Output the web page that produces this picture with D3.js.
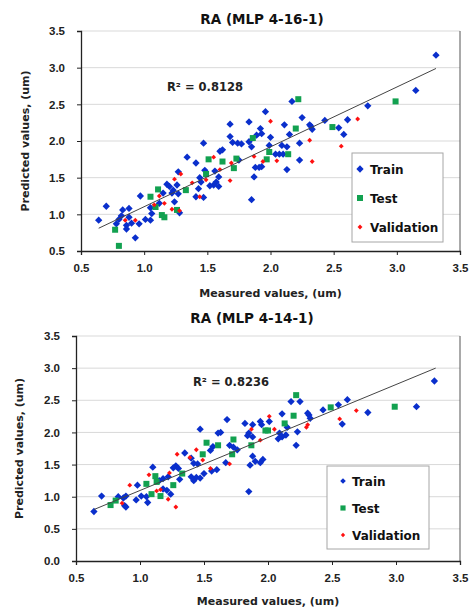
<!DOCTYPE html>
<meta charset="utf-8">
<style>
body { margin: 0; background: #fff; }
svg { font-family: "DejaVu Sans", Verdana, sans-serif; font-weight: bold; }
.grid line { stroke: #d9d9d9; stroke-width: 1px; }
.axis path, .axis line { stroke: #222; }
.axis path { stroke-width: 1.3px; }
.axis text { fill: #222; font-size: 11.5px; font-weight: bold; }
</style>
<body>
<script src="https://d3js.org/d3.v7.min.js"></script>
<script>
// ---- data (measured, predicted) ----
const titles = ["RA (MLP 4-16-1)", "RA (MLP 4-14-1)"];
const r2Labels = ["R² = 0.8128", "R² = 0.8236"];
const seriesNames = ["Train", "Test", "Validation"];
const xTicks = [0.5, 1.0, 1.5, 2.0, 2.5, 3.0, 3.5];
const yTicksTop = [0.5, 1.0, 1.5, 2.0, 2.5, 3.0, 3.5];
const yTicksBottom = [0.0, 0.5, 1.0, 1.5, 2.0, 2.5, 3.0, 3.5];

// trend lines: [x start, x end, slope, intercept]
const trendTop = [0.64, 3.31, 0.816, 0.288];
const trendBottom = [0.64, 3.31, 0.824, 0.273];

const trainTop = [[3.31,3.17],[3.15,2.69],[2.77,2.48],[2.61,2.29],[2.54,2.18],[2.58,2.09],[2.43,2.28],[2.32,2.20],[2.33,2.16],[2.23,1.97],[2.25,2.32],[2.17,2.54],[2.15,2.09],[2.11,2.22],[2.31,2.22],[1.96,2.40],[1.83,2.26],[1.92,2.17],[1.89,2.08],[1.93,2.10],[2.00,2.05],[1.83,1.99],[1.85,1.92],[1.99,1.94],[2.04,1.82],[2.07,1.82],[2.10,1.82],[2.09,1.94],[2.13,1.92],[1.68,2.23],[1.68,2.06],[1.70,1.98],[1.74,1.97],[1.77,1.96],[1.47,1.97],[1.60,1.86],[1.62,1.88],[1.34,1.78],[2.23,1.74],[2.13,1.61],[1.93,1.65],[1.88,1.64],[1.91,1.64],[1.87,1.51],[1.85,1.20],[1.75,1.74],[1.56,1.59],[1.59,1.51],[1.57,1.44],[1.55,1.40],[1.52,1.39],[1.59,1.38],[1.48,1.60],[1.44,1.50],[1.45,1.44],[1.41,1.70],[1.43,1.35],[1.41,1.24],[1.47,1.23],[1.27,1.58],[1.26,1.40],[1.18,1.41],[1.20,1.38],[1.15,1.29],[1.22,1.29],[1.27,1.28],[1.24,1.17],[1.23,1.33],[1.05,1.09],[1.12,1.15],[0.97,1.25],[1.06,1.01],[1.28,1.02],[1.01,0.93],[1.05,0.92],[0.96,0.87],[0.88,1.08],[0.83,1.06],[0.82,0.98],[0.80,0.93],[0.88,0.96],[0.70,1.11],[0.64,0.92],[0.78,0.87],[0.86,0.85],[0.86,0.80],[0.93,0.68],[0.90,0.88]];
const testTop = [[2.99,2.54],[2.49,2.19],[2.22,2.57],[2.20,2.17],[1.86,2.04],[1.99,1.85],[2.14,1.82],[1.97,1.75],[1.73,1.76],[1.62,1.72],[1.51,1.75],[1.71,1.63],[1.49,1.55],[1.33,1.33],[1.11,1.34],[1.05,1.24],[1.09,1.10],[1.14,0.99],[1.16,0.96],[1.26,1.06],[0.77,0.79],[0.80,0.57]];
const validTop = [[2.69,2.30],[2.56,1.93],[2.31,2.01],[2.00,2.27],[2.33,1.72],[2.05,1.73],[1.94,1.72],[1.87,1.79],[1.69,1.70],[1.55,1.78],[1.60,1.61],[1.68,1.46],[1.49,1.47],[1.44,1.24],[1.38,1.43],[1.29,1.55],[1.24,1.48],[1.12,1.25],[1.16,1.15],[1.08,1.13],[1.22,1.07],[1.28,1.05],[0.93,0.92],[0.85,0.92]];

const trainBottom = [[3.30,2.80],[3.16,2.40],[2.78,2.31],[2.62,2.51],[2.55,2.43],[2.58,2.13],[2.43,2.35],[2.32,2.27],[2.33,2.22],[2.31,2.30],[2.23,2.01],[2.22,1.80],[2.18,2.48],[2.25,2.48],[2.11,2.29],[2.15,2.08],[2.01,2.17],[1.94,2.17],[1.95,2.12],[1.82,2.14],[1.88,2.12],[1.85,1.99],[1.84,1.95],[1.88,1.93],[1.88,1.63],[1.86,1.49],[1.96,1.58],[2.09,1.99],[2.11,1.93],[2.08,1.90],[2.14,1.96],[1.68,2.20],[1.70,1.80],[1.73,1.77],[1.76,1.73],[1.67,1.53],[1.61,1.99],[1.63,2.00],[1.57,1.78],[1.55,1.72],[1.47,2.05],[1.40,1.60],[1.35,1.68],[1.42,1.52],[1.45,1.51],[1.60,1.42],[1.56,1.40],[0.64,0.77],[0.70,1.01],[0.83,1.00],[0.87,0.98],[0.89,1.01],[0.88,0.86],[0.89,0.84],[0.98,1.18],[0.97,0.95],[1.01,1.01],[1.05,1.00],[1.06,0.91],[1.10,1.46],[1.18,1.28],[1.15,1.25],[1.22,1.31],[1.24,1.04],[1.21,1.10],[1.28,1.48],[1.26,1.45],[1.30,1.44],[1.31,1.27],[1.40,1.31],[1.44,1.30],[1.47,1.29],[1.42,1.25],[1.50,1.36],[1.85,1.08],[1.94,1.53],[1.90,1.55],[1.18,1.12]];
const testBottom = [[2.99,2.40],[2.49,2.39],[2.22,2.58],[2.20,2.26],[2.13,2.14],[1.98,2.03],[2.00,2.03],[1.87,1.80],[1.73,1.89],[1.72,1.66],[1.61,1.80],[1.52,1.84],[1.49,1.66],[1.33,1.36],[1.12,1.32],[1.13,1.23],[1.26,1.18],[1.05,1.20],[1.09,1.04],[1.16,1.01],[0.77,0.87],[0.81,0.94]];
const validBottom = [[2.69,2.34],[2.56,2.21],[2.31,2.12],[2.30,2.08],[2.01,2.25],[2.05,2.05],[1.94,1.88],[1.87,2.05],[1.70,1.51],[1.55,1.44],[1.49,1.57],[1.44,1.73],[1.39,1.61],[1.29,1.66],[1.23,1.37],[1.07,1.34],[0.92,1.18],[1.13,1.09],[1.16,1.11],[1.22,0.96],[1.28,0.84],[0.86,0.90]];

const colors = { Train: "#0a2fcc", Test: "#12a150", Validation: "#ff1010" };

const svg = d3.select("body").append("svg")
  .attr("width", 470).attr("height", 610);

function symbolPath(name, big) {
  if (name === "Train") return d3.symbol(d3.symbolDiamond2, big ? 34 : 20)();
  if (name === "Test") return d3.symbol(d3.symbolSquare2, big ? 46 : 34)();
  return d3.symbol(d3.symbolDiamond2, big ? 15 : 12)();
}

function drawPanel(p) {
  const x = d3.scaleLinear().domain([0.5, 3.5]).range([p.left, p.right]);
  const y = d3.scaleLinear().domain([p.yTicks[0], 3.5]).range([p.bottom, p.top]);
  const g = svg.append("g");

  // title
  g.append("text").attr("x", p.titleX).attr("y", p.titleY)
    .attr("text-anchor", "middle").attr("font-size", 13.5).attr("fill", "#111")
    .text(p.title);

  // horizontal grid
  g.append("g").attr("class", "grid")
    .selectAll("line").data(p.yTicks.slice(1)).join("line")
    .attr("x1", p.left).attr("x2", p.right)
    .attr("y1", d => y(d)).attr("y2", d => y(d));

  // right border
  g.append("line").attr("x1", p.right).attr("x2", p.right)
    .attr("y1", p.top).attr("y2", p.bottom).attr("stroke", "#555");

  // axes
  g.append("g").attr("class", "axis")
    .attr("transform", `translate(0,${p.bottom})`)
    .call(d3.axisBottom(x).tickValues(xTicks).tickFormat(d3.format(".1f")).tickSizeOuter(0).tickSize(4).tickPadding(9));
  g.append("g").attr("class", "axis")
    .attr("transform", `translate(${p.left},0)`)
    .call(d3.axisLeft(y).tickValues(p.yTicks).tickFormat(d3.format(".1f")).tickSizeOuter(0).tickSize(4).tickPadding(12));

  // axis titles
  g.append("text").attr("x", (p.left + p.right) / 2).attr("y", p.xLabelY)
    .attr("text-anchor", "middle").attr("font-size", 11).attr("fill", "#222")
    .text("Measured values, (um)");
  g.append("text")
    .attr("transform", `translate(${p.yLabelX},${(p.top + p.bottom) / 2}) rotate(-90)`)
    .attr("text-anchor", "middle").attr("font-size", 11).attr("fill", "#222")
    .text("Predicted values,  (um)");

  // points: train first, then test, then validation on top
  [["Train", p.train], ["Test", p.test], ["Validation", p.valid]].forEach(([name, pts]) => {
    g.append("g").selectAll("path").data(pts).join("path")
      .attr("transform", d => `translate(${x(d[0])},${y(d[1])})`)
      .attr("d", symbolPath(name, true))
      .attr("fill", colors[name]);
  });

  // trend line
  const t = p.trend;
  g.append("line")
    .attr("x1", x(t[0])).attr("y1", y(t[2] * t[0] + t[3]))
    .attr("x2", x(t[1])).attr("y2", y(t[2] * t[1] + t[3]))
    .attr("stroke", "#444").attr("stroke-width", 1);

  // R² label
  g.append("text").attr("x", p.r2X).attr("y", p.r2Y)
    .attr("font-size", 11.5).attr("fill", "#222").text(p.r2);

  // legend
  const L = p.legend;
  g.append("rect").attr("x", L.x).attr("y", L.y).attr("width", L.w).attr("height", L.h)
    .attr("fill", "#fff").attr("stroke", "#a6a6a6");
  seriesNames.forEach((name, i) => {
    const cy = L.y + L.first + i * L.step;
    g.append("path").attr("transform", `translate(${L.x + L.mx},${cy})`)
      .attr("d", symbolPath(name, L.big)).attr("fill", colors[name]);
    g.append("text").attr("x", L.x + L.tx).attr("y", cy + 4.5)
      .attr("font-size", 12).attr("fill", "#111").text(name);
  });
}

drawPanel({
  title: titles[0], titleX: 262, titleY: 24,
  left: 81, right: 460, top: 31, bottom: 251,
  yTicks: yTicksTop, xLabelY: 297, yLabelX: 29,
  train: trainTop, test: testTop, valid: validTop,
  trend: trendTop, r2: r2Labels[0], r2X: 167, r2Y: 91,
  legend: { x: 352, y: 153, w: 91, h: 89, first: 16, step: 29, mx: 8, tx: 18, big: true }
});

drawPanel({
  title: titles[1], titleX: 252, titleY: 323,
  left: 76, right: 460, top: 336, bottom: 561,
  yTicks: yTicksBottom, xLabelY: 605, yLabelX: 23,
  train: trainBottom, test: testBottom, valid: validBottom,
  trend: trendBottom, r2: r2Labels[1], r2X: 193, r2Y: 386,
  legend: { x: 327, y: 466, w: 102, h: 83, first: 15, step: 27, mx: 16, tx: 25, big: false }
});
</script>
</body>
</html>
